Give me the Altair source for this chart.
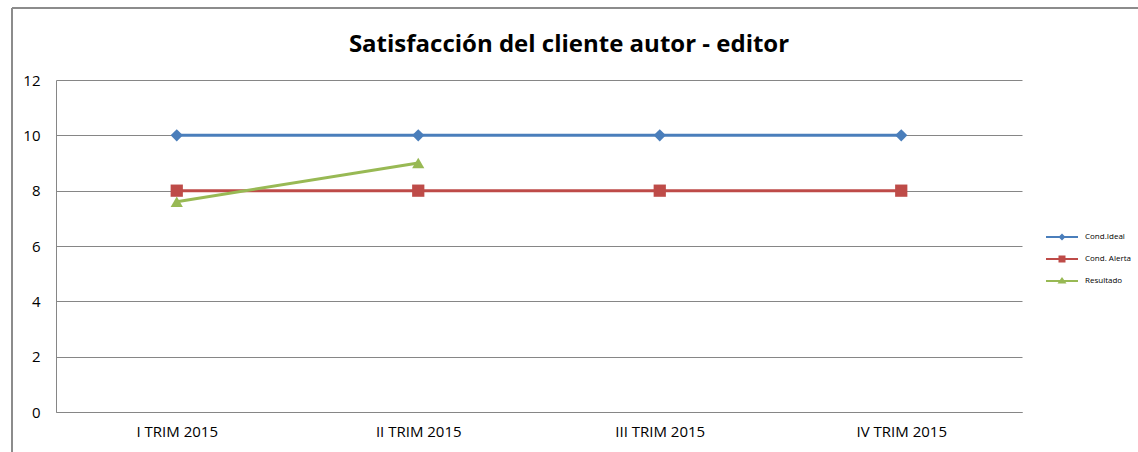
import altair as alt
import pandas as pd

categories = ["I TRIM 2015", "II TRIM 2015", "III TRIM 2015", "IV TRIM 2015"]
series_names = ["Cond.Ideal", "Cond. Alerta", "Resultado"]
ideal = [10, 10, 10, 10]
alerta = [8, 8, 8, 8]
resultado = [7.6, 9.0, None, None]
colors = ["#4A7EBB", "#BE4B48", "#98B954"]
shapes = ["diamond", "square", "triangle-up"]
title_text = "Satisfacción del cliente autor - editor"

rows = []
for name, vals in zip(series_names, [ideal, alerta, resultado]):
    for c, v in zip(categories, vals):
        if v is not None:
            rows.append({"cat": c, "serie": name, "valor": v})
df = pd.DataFrame(rows)

FONT = "Open Sans"
W, H = 966, 332

paths = {
    "Cond.Ideal": "M-3.2,-0.2H-0.5L0,-0.7L0.5,-0.2H3.2V0.2H0.5L0,0.7L-0.5,0.2H-3.2Z",
    "Cond. Alerta": "M-3.2,-0.2H-0.7V-0.7H0.7V-0.2H3.2V0.2H0.7V0.7H-0.7V0.2H-3.2Z",
    "Resultado": "M-3.2,-0.2H-0.42L0,-0.8L0.42,-0.2H3.2V0.2H0.69L0.9,0.5H-0.9L-0.69,0.2H-3.2Z",
}
shape_sig = "datum.value === '{0}' ? '{1}' : datum.value === '{2}' ? '{3}' : '{4}'".format(
    series_names[0], paths[series_names[0]], series_names[1], paths[series_names[1]], paths[series_names[2]])
fill_sig = "datum.value === '{0}' ? '{1}' : datum.value === '{2}' ? '{3}' : '{4}'".format(
    series_names[0], colors[0], series_names[1], colors[1], colors[2])

x_enc = alt.X("cat:N", sort=categories, scale=alt.Scale(domain=categories, padding=0.5),
              axis=alt.Axis(title=None, labelAngle=0, ticks=False, grid=False, domainColor="#868686",
                            labelFontSize=15, labelFont=FONT, labelColor="#000", labelPadding=12))
y_enc = alt.Y("valor:Q", scale=alt.Scale(domain=[0, 12], nice=False),
              axis=alt.Axis(title=None, values=[0, 2, 4, 6, 8, 10, 12], ticks=False, grid=True,
                            gridColor="#868686", domainColor="#868686", labelFontSize=15, labelFont=FONT,
                            labelColor="#000", labelPadding=16))
color_scale = alt.Scale(domain=series_names, range=colors)

lines = alt.Chart(df).mark_line(strokeWidth=3).encode(
    x=x_enc, y=y_enc,
    color=alt.Color("serie:N", scale=color_scale, sort=series_names,
                    legend=alt.Legend(orient="none", legendX=1001, legendY=152, title=None,
                                      symbolSize=100, labelOffset=18, rowPadding=13,
                                      labelFontSize=8, labelFont=FONT, labelColor="#000",
                                      symbolType={"expr": shape_sig},
                                      symbolFillColor={"expr": fill_sig},
                                      symbolStrokeWidth=0, symbolOpacity=1)),
)

point_layers = []
for name, shp in zip(series_names, shapes):
    point_layers.append(
        alt.Chart(df).transform_filter(alt.datum.serie == name)
        .mark_point(filled=True, size=150, opacity=1, shape=shp)
        .encode(x=x_enc, y=y_enc, color=alt.Color("serie:N", scale=color_scale, legend=None))
    )

frame_df = pd.DataFrame({"k": [0]})
frame_left = alt.Chart(frame_df).mark_rule(color="#8c8c8c", strokeWidth=2).encode(
    x=alt.value(-44), y=alt.value(-72), y2=alt.value(H + 40))
frame_top = alt.Chart(frame_df).mark_rule(color="#8c8c8c", strokeWidth=2).encode(
    x=alt.value(-44), x2=alt.value(W + 116), y=alt.value(-72))

title = alt.Chart(pd.DataFrame({"t": [title_text]})).mark_text(
    font=FONT, fontSize=24, fontWeight="bold", color="#000", align="center", baseline="alphabetic"
).encode(text="t:N", x=alt.value(513), y=alt.value(-28))

chart = alt.layer(frame_left, frame_top, title, lines, *point_layers).properties(
    width=W, height=H,
    autosize=alt.AutoSizeParams(type="none"),
    padding={"left": 56, "top": 80, "right": 116, "bottom": 40},
    background="white",
).configure_view(stroke=None)

chart.save("out.html", embed_options={"renderer": "svg", "actions": False})
